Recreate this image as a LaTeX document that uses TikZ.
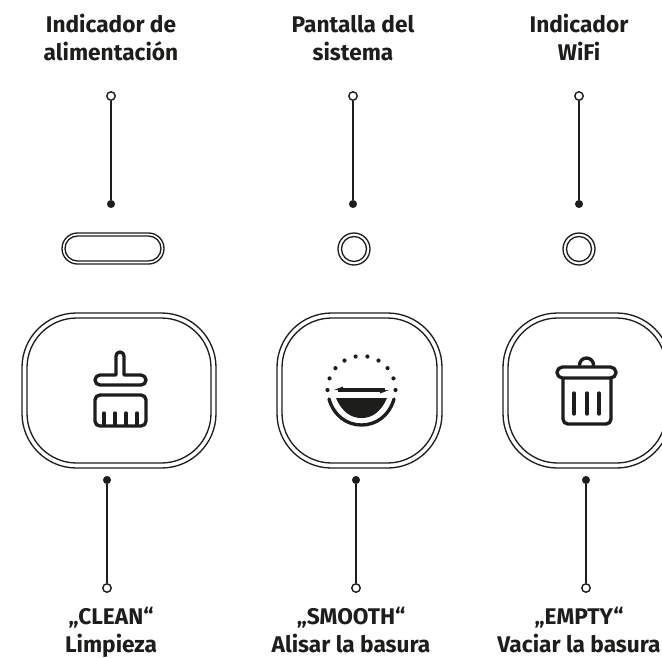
\documentclass[tikz,border=0pt]{standalone}
\usepackage{fontspec}
\setmainfont{Fira Sans}
\usetikzlibrary{calc}
\definecolor{ink}{HTML}{1D1D1B}
\tikzstyle{label} = [font=\bfseries\fontsize{12.9}{15.6}\selectfont,text=ink,align=center,inner sep=0pt]
\tikzstyle{hollow} = [draw=ink,circle,fill=white,minimum size=4.8pt,inner sep=0pt,line width=0.8pt]
\tikzstyle{solid} = [fill=ink,circle,minimum size=4.6pt,inner sep=0pt]
\tikzstyle{lead} = [draw=ink,line width=0.6pt]
\tikzstyle{rim} = [draw=ink,line width=0.75pt]
\tikzstyle{icon} = [draw=ink,line width=1.9pt,line cap=round,line join=round]

\begin{document}
\begin{tikzpicture}[x=0.02cm,y=-0.02cm]
        \useasboundingbox (0,0) rectangle (662,657);

        % top labels
        \node[label,anchor=base] at (111,60) (powerlabel) {Indicador de\\alimentación};
        \node[label,anchor=base] at (353,60) (screenlabel) {Pantalla del\\sistema};
        \node[label,anchor=base] at (579,60) (wifilabel) {Indicador\\WiFi};

        % top leaders
        \node[hollow] at (111,96) (powertop) {};
        \node[solid] at (111,204) (powerend) {};
        \node[hollow] at (353,96) (screentop) {};
        \node[solid] at (353,204) (screenend) {};
        \node[hollow] at (579,96) (wifitop) {};
        \node[solid] at (579,204) (wifiend) {};
        \draw[lead] (powertop) -- (powerend);
        \draw[lead] (screentop) -- (screenend);
        \draw[lead] (wifitop) -- (wifiend);

        % indicators
        \draw[rim,rounded corners=8.8] (62,233) rectangle (164,264);
        \draw[rim,rounded corners=7.1] (65,236) rectangle (161,261);
        \draw[rim] (354,249) circle (16);
        \draw[rim] (354,249) circle (12.5);
        \draw[rim] (579,249) circle (16);
        \draw[rim] (579,249) circle (12.5);

        % buttons
        \draw[rim,rounded corners=31] (22,313) rectangle (216,468);
        \draw[rim,rounded corners=28.3] (27,318) rectangle (211,463);
        \draw[rim,rounded corners=31] (277,313) rectangle (442,468);
        \draw[rim,rounded corners=28.3] (282,318) rectangle (437,463);
        \begin{scope}
            \clip (0,0) rectangle (662,657);
            \draw[rim,rounded corners=31] (503,313) rectangle (671,468);
            \draw[rim,rounded corners=28.3] (508,318) rectangle (666,463);
        \end{scope}

        % brush
        \draw[icon] (116,375) -- (116,356) arc (180:360:4) -- (124,375) -- (141,375) arc (-90:90:5) -- (100,385) arc (90:270:5) -- cycle;
        \draw[icon,rounded corners=2.8] (95,395) -- (95,426) -- (146,426) -- (146,395) -- cycle;
        \foreach \tx in {104,115,126,137} \draw[icon] (\tx,413) -- (\tx,425);

        % smooth icon
        \foreach \ang in {0,20,...,180} \fill[ink] ($(361.5,390)+(\ang:-34)$) circle (2.1);
        \draw[ink,line width=1.9pt] (338,390) -- (385,390);
        \fill[ink] (334,390) -- (343,386.5) -- (343,390) -- cycle;
        \fill[ink] (389,390) -- (380,393.5) -- (380,390) -- cycle;
        \fill[ink] (336,398) -- (387,398) .. controls (381,412) and (372,418) .. (361.5,418) .. controls (351,418) and (342,412) .. (336,398) -- cycle;
        \draw[icon] (329,399) .. controls (334,416) and (347,425) .. (361.5,425) .. controls (376,425) and (389,416) .. (394,399);

        % bin
        \draw[icon] (579.5,365) arc (180:360:7);
        \draw[icon,rounded corners=3.1] (557,367) rectangle (616,378);
        \draw[icon,rounded corners=2.8] (563,379) -- (563,424) -- (611,424) -- (611,379);
        \foreach \tx in {574,587,599} \draw[icon] (\tx,393) -- (\tx,414);

        % bottom leaders
        \node[solid] at (107,480) (cleanend) {};
        \node[hollow] at (107,588) (cleantop) {};
        \node[solid] at (356,480) (smoothend) {};
        \node[hollow] at (356,588) (smoothtop) {};
        \node[solid] at (586,480) (emptyend) {};
        \node[hollow] at (586,588) (emptytop) {};
        \draw[lead] (cleanend) -- (cleantop);
        \draw[lead] (smoothend) -- (smoothtop);
        \draw[lead] (emptyend) -- (emptytop);

        % bottom labels
        \node[label,anchor=base] at (111,652) (cleanlabel) {„CLEAN“\\Limpieza};
        \node[label,anchor=base] at (351,652) (smoothlabel) {„SMOOTH“\\Alisar la basura};
        \node[label,anchor=base] at (579,652) (emptylabel) {„EMPTY“\\Vaciar la basura};
\end{tikzpicture}
\end{document}
